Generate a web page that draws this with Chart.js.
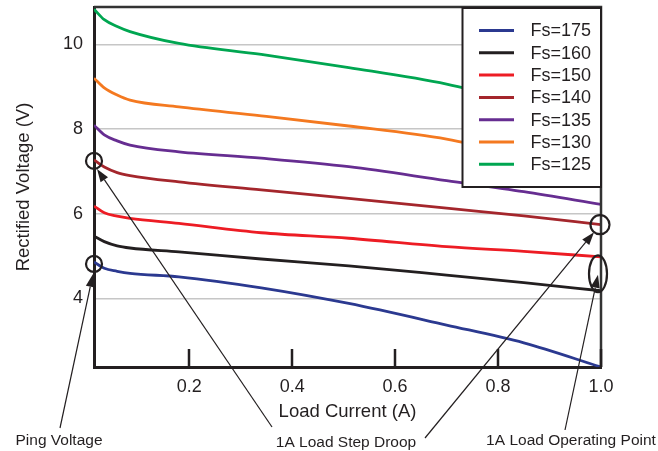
<!DOCTYPE html>
<html>
<head>
<meta charset="utf-8">
<title>Rectified Voltage x Load Current</title>
<script src="https://cdn.jsdelivr.net/npm/chart.js@4/dist/chart.umd.min.js"></script>
<style>
  body { margin: 0; background: #fff; }
  #caixa { width: 658px; height: 451px; position: relative; }
</style>
</head>
<body>
<div id="caixa"><canvas id="grafico"></canvas></div>
<script>
// corrente de carga (A) onde cada curva foi lida
var corrente = [0.015, 0.035, 0.06, 0.085, 0.18, 0.34, 0.51, 0.70, 0.85, 1.0];

// tensao retificada (V) para cada frequencia
var fs175 = [4.86, 4.71, 4.64, 4.59, 4.51, 4.25, 3.88, 3.37, 2.95, 2.38];
var fs160 = [5.47, 5.34, 5.24, 5.19, 5.10, 4.93, 4.77, 4.55, 4.37, 4.18];
var fs150 = [6.18, 6.02, 5.94, 5.89, 5.77, 5.55, 5.42, 5.22, 5.11, 4.98];
var fs140 = [7.27, 7.10, 6.97, 6.90, 6.75, 6.56, 6.36, 6.13, 5.95, 5.74];
var fs135 = [8.09, 7.86, 7.72, 7.62, 7.46, 7.31, 7.11, 6.78, 6.52, 6.22];
var fs130 = [9.20, 8.97, 8.80, 8.68, 8.52, 8.31, 8.07, 7.76, 7.35, 6.90];
var fs125 = [10.83, 10.58, 10.42, 10.30, 10.02, 9.76, 9.45, 9.06, 8.60, 8.10];

var rotulos = ["Fs=175", "Fs=160", "Fs=150", "Fs=140", "Fs=135", "Fs=130", "Fs=125"];
var cores = ["#2b3990", "#231f20", "#ed1c24", "#a4262c", "#662d91", "#f47920", "#00a651"];

var ticksX = [0.2, 0.4, 0.6, 0.8, 1.0];
var ticksY = [4, 6, 8, 10];

var notas = ["Ping Voltage", "1A Load Step Droop", "1A Load Operating Point"];

var FONTE = "'Liberation Sans', Arial, Helvetica, sans-serif";
var TINTA = "#231f20";

function pares(valores) {
  return corrente.map(function (c, i) { return { x: c, y: valores[i] }; });
}

var series = [fs175, fs160, fs150, fs140, fs135, fs130, fs125];

function seta(ctx, x1, y1, x2, y2) {
  var ang = Math.atan2(y2 - y1, x2 - x1);
  var comp = 13, meia = 4.5;
  var bx = x2 - comp * Math.cos(ang), by = y2 - comp * Math.sin(ang);
  ctx.beginPath();
  ctx.moveTo(x1, y1);
  ctx.lineTo(bx, by);
  ctx.stroke();
  ctx.beginPath();
  ctx.moveTo(x2, y2);
  ctx.lineTo(bx + meia * Math.sin(ang), by - meia * Math.cos(ang));
  ctx.lineTo(bx - meia * Math.sin(ang), by + meia * Math.cos(ang));
  ctx.closePath();
  ctx.fill();
}

var moldura = {
  id: "moldura",
  afterDatasetsDraw: function (chart) {
    var ctx = chart.ctx;
    var a = chart.chartArea;
    var sx = chart.scales.x, sy = chart.scales.y;
    ctx.save();

    // borda de cima e da direita
    ctx.strokeStyle = "#333";
    ctx.lineWidth = 2.5;
    ctx.beginPath();
    ctx.moveTo(a.left, a.top);
    ctx.lineTo(a.right, a.top);
    ctx.lineTo(a.right, a.bottom);
    ctx.stroke();

    // ticks do eixo x para dentro
    ctx.strokeStyle = TINTA;
    ctx.lineWidth = 2.5;
    ticksX.forEach(function (v) {
      var px = Math.round(sx.getPixelForValue(v));
      ctx.beginPath();
      ctx.moveTo(px, a.bottom);
      ctx.lineTo(px, a.bottom - 18);
      ctx.stroke();
    });

    // legenda
    var lx = a.right - 138.5, ly = a.top + 1;
    ctx.fillStyle = "#fff";
    ctx.fillRect(lx, ly, 138.5, 179);
    ctx.strokeStyle = TINTA;
    ctx.lineWidth = 2;
    ctx.strokeRect(lx, ly, 138.5, 179);
    ctx.font = "18px " + FONTE;
    ctx.textBaseline = "middle";
    ctx.textAlign = "left";
    chart.data.datasets.forEach(function (d, i) {
      var yy = ly + 22.5 + i * 22.3;
      ctx.strokeStyle = d.borderColor;
      ctx.lineWidth = 3;
      ctx.beginPath();
      ctx.moveTo(lx + 16.5, yy);
      ctx.lineTo(lx + 51.5, yy);
      ctx.stroke();
      ctx.fillStyle = TINTA;
      ctx.fillText(d.label, lx + 68, yy + 1);
    });

    // marcacoes
    var x0 = sx.getPixelForValue(corrente[0]);
    var xf = sx.getPixelForValue(corrente[corrente.length - 1]);
    var ult = corrente.length - 1;
    var ping = { x: x0, y: sy.getPixelForValue(fs175[0]) + 2 };
    var queda = { x: x0, y: sy.getPixelForValue(fs140[0]) + 1 };
    var oper = { x: xf - 1, y: sy.getPixelForValue(fs140[ult]) };
    var yr = sy.getPixelForValue(fs150[ult]), yb = sy.getPixelForValue(fs160[ult]);
    var elip = { x: xf - 3, y: (yr + yb) / 2, ry: (yb - yr) / 2 + 1.5 };

    ctx.strokeStyle = TINTA;
    ctx.lineWidth = 2.2;
    ctx.beginPath(); ctx.arc(ping.x, ping.y, 8, 0, Math.PI * 2); ctx.stroke();
    ctx.beginPath(); ctx.arc(queda.x, queda.y, 8, 0, Math.PI * 2); ctx.stroke();
    ctx.beginPath(); ctx.arc(oper.x, oper.y, 9.5, 0, Math.PI * 2); ctx.stroke();
    ctx.beginPath(); ctx.ellipse(elip.x, elip.y, 9, elip.ry, 0, 0, Math.PI * 2); ctx.stroke();

    ctx.lineWidth = 1.2;
    ctx.fillStyle = TINTA;
    seta(ctx, 60, 428, ping.x - 1, ping.y + 10);
    seta(ctx, 272, 427, queda.x + 3, queda.y + 8);
    seta(ctx, 425, 438, oper.x - 6, oper.y + 7.5);
    seta(ctx, 565, 430, elip.x, elip.y + 1);

    ctx.font = "15.5px " + FONTE;
    ctx.textAlign = "center";
    ctx.textBaseline = "middle";
    ctx.fillText(notas[0], 59, 441);
    ctx.fillText(notas[1], 346, 443);
    ctx.fillText(notas[2], 571, 441);

    ctx.restore();
  }
};

function init() {
  Chart.defaults.font.family = FONTE;
  Chart.defaults.color = TINTA;

  var datasets = series.map(function (s, i) {
    return {
      label: rotulos[i],
      data: pares(s),
      borderColor: cores[i],
      backgroundColor: cores[i],
      borderWidth: 2.8,
      pointRadius: 0,
      fill: false,
      cubicInterpolationMode: "monotone"
    };
  });

  var ctx = document.getElementById("grafico").getContext("2d");
  new Chart(ctx, {
    type: "line",
    data: { datasets: datasets },
    options: {
      responsive: true,
      maintainAspectRatio: false,
      animation: false,
      layout: { padding: { left: 0, right: 57, top: 7, bottom: 0 } },
      plugins: { legend: { display: false }, tooltip: { enabled: false } },
      scales: {
        x: {
          type: "linear",
          min: corrente[0],
          max: 1.0,
          afterBuildTicks: function (s) { s.ticks = ticksX.map(function (v) { return { value: v }; }); },
          afterFit: function (s) { s.height = 84; s.paddingLeft = 0; s.paddingRight = 0; },
          grid: { display: false, drawTicks: false },
          border: { display: true, color: TINTA, width: 3 },
          ticks: {
            padding: 9,
            font: { size: 18 },
            color: TINTA,
            maxRotation: 0,
            callback: function (v) { return Number(v).toFixed(1); }
          },
          title: {
            display: true,
            text: "Load Current (A)",
            font: { size: 18.5 },
            color: TINTA,
            padding: { top: 0, bottom: 28 }
          }
        },
        y: {
          min: 2.38,
          max: 10.88,
          afterBuildTicks: function (s) { s.ticks = ticksY.map(function (v) { return { value: v }; }); },
          afterFit: function (s) { s.width = 94; s.paddingTop = 0; s.paddingBottom = 0; },
          grid: { color: "#c6c6c6", lineWidth: 1.5, drawTicks: false },
          border: { display: true, color: TINTA, width: 3 },
          ticks: {
            padding: 11,
            font: { size: 18 },
            color: TINTA,
            callback: function (v) { return String(v); }
          },
          title: {
            display: true,
            text: "Rectified Voltage (V)",
            font: { size: 18.5 },
            color: TINTA,
            padding: { top: 13, bottom: 0 }
          }
        }
      }
    },
    plugins: [moldura]
  });
}
window.addEventListener("DOMContentLoaded", init);
</script>
</body>
</html>
